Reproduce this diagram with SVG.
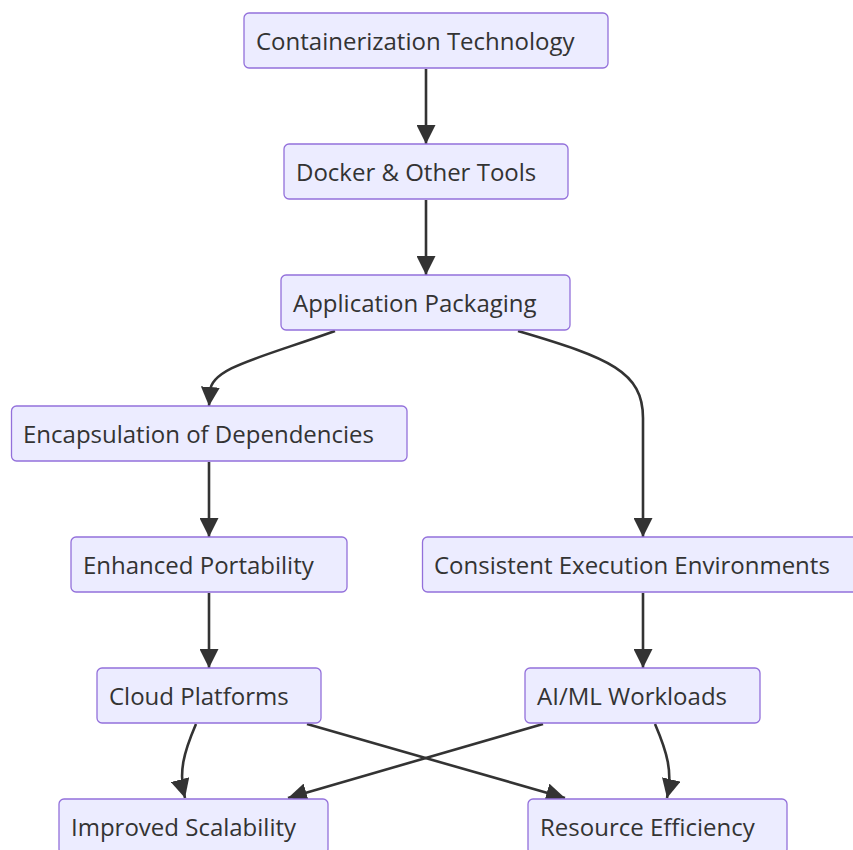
<svg xmlns="http://www.w3.org/2000/svg" width="853" height="850" viewBox="0 0 853 850">
<defs>
<style>
.node rect{fill:#ECECFF;stroke:#9370DB;stroke-width:1.3}
.node text{font-family:"Open Sans","Liberation Sans",sans-serif;font-size:24px;fill:#333}
.edge{fill:none;stroke:#333;stroke-width:2.6}
</style>
<marker id="arrow" viewBox="0 0 10 10" refX="10" refY="5" markerUnits="userSpaceOnUse" markerWidth="19" markerHeight="19" orient="auto">
<path d="M0,0 L10,5 L0,10 z" fill="#333"/>
</marker>
</defs>
<rect width="853" height="850" fill="#fff"/>
<g id="edges">
<path class="edge" d="M426,69 L426,144" marker-end="url(#arrow)"/>
<path class="edge" d="M426,200 L426,275" marker-end="url(#arrow)"/>
<path class="edge" d="M335,331 C260,358 210,368 210,392 L209,406" marker-end="url(#arrow)"/>
<path class="edge" d="M518,331 C610,358 643,372 643,418 L643,537" marker-end="url(#arrow)"/>
<path class="edge" d="M209,462 L209,537" marker-end="url(#arrow)"/>
<path class="edge" d="M209,593 L209,668" marker-end="url(#arrow)"/>
<path class="edge" d="M643,593 L643,668" marker-end="url(#arrow)"/>
<path class="edge" d="M196,724 C184,752 178,772 185,798" marker-end="url(#arrow)"/>
<path class="edge" d="M307,724 L565,798" marker-end="url(#arrow)"/>
<path class="edge" d="M543,724 L288,798" marker-end="url(#arrow)"/>
<path class="edge" d="M655,724 C667,752 673,772 667,798" marker-end="url(#arrow)"/>
</g>
<g id="n1" class="node"><rect x="244" y="13" width="364" height="55" rx="5"/><text x="256" y="50">Containerization Technology</text></g>
<g id="n2" class="node"><rect x="284" y="144" width="284" height="55" rx="5"/><text x="296" y="181">Docker &amp; Other Tools</text></g>
<g id="n3" class="node"><rect x="281" y="275" width="289" height="55" rx="5"/><text x="293" y="312">Application Packaging</text></g>
<g id="n4" class="node"><rect x="11.5" y="406" width="395.5" height="55" rx="5"/><text x="23" y="443">Encapsulation of Dependencies</text></g>
<g id="n5" class="node"><rect x="71" y="537" width="276" height="55" rx="5"/><text x="83" y="574">Enhanced Portability</text></g>
<g id="n6" class="node"><rect x="422.5" y="537" width="441" height="55" rx="5"/><text x="434" y="574">Consistent Execution Environments</text></g>
<g id="n7" class="node"><rect x="97" y="668" width="224" height="55" rx="5"/><text x="109" y="705">Cloud Platforms</text></g>
<g id="n8" class="node"><rect x="525" y="668" width="235" height="55" rx="5"/><text x="537" y="705">AI/ML Workloads</text></g>
<g id="n9" class="node"><rect x="59" y="799" width="269" height="55" rx="5"/><text x="71" y="836">Improved Scalability</text></g>
<g id="n10" class="node"><rect x="528" y="799" width="259" height="55" rx="5"/><text x="540" y="836">Resource Efficiency</text></g>
</svg>
